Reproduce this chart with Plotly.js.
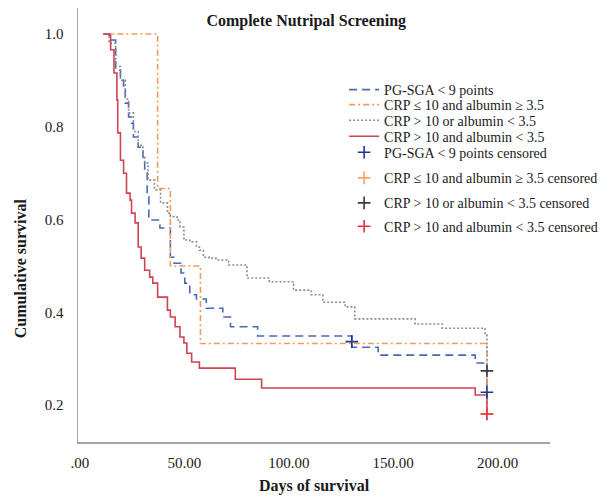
<!DOCTYPE html>
<html>
<head>
<meta charset="utf-8">
<script src="https://cdn.plot.ly/plotly-3.0.1.min.js"></script>
<style>html,body{margin:0;padding:0;background:#fff;}#chart{width:611px;height:496px;}</style>
</head>
<body>
<div id="chart"></div>
<script>
// ---- axis ticks ----
const xTickVals = [0, 50, 100, 150, 200];
const xTickText = ['.00', '50.00', '100.00', '150.00', '200.00'];
const yTickVals = [0.2, 0.4, 0.6, 0.8, 1.0];
const yTickText = ['0.2', '0.4', '0.6', '0.8', '1.0'];

// ---- series names ----
const seriesNames = ['PG-SGA < 9 points', 'CRP ≤ 10 and albumin ≥ 3.5', 'CRP > 10 or albumin < 3.5', 'CRP > 10 and albumin < 3.5'];
const censoredNames = ['PG-SGA < 9 points censored', 'CRP ≤ 10 and albumin ≥ 3.5 censored', 'CRP > 10 or albumin < 3.5 censored', 'CRP > 10 and albumin < 3.5 censored'];

// ---- PG-SGA < 9 points (blue dashed) ----
const pgDays = [11.2,14.0,17.1,19.4,20.9,21.7,23.3,24.7,25.6,27.9,30.2,31.0,32.2,33.0,38.3,43.3,45.1,48.4,50.2,52.6,55.8,60.5,68.4,72.1,85.1,130.2,142.8,189.3,194.9];
const pgSurv = [1.0,0.987,0.922,0.901,0.886,0.851,0.821,0.808,0.778,0.756,0.728,0.707,0.649,0.599,0.582,0.519,0.506,0.485,0.463,0.438,0.429,0.409,0.390,0.369,0.349,0.325,0.308,0.291,0.228];
const pgCensDays = [130.2, 194.9];
const pgCensSurv = [0.337, 0.228];

// ---- CRP <= 10 and albumin >= 3.5 (orange dash-dot) ----
const lowDays = [11.2, 37.2, 43.3, 57.7, 194.9];
const lowSurv = [1.0, 0.667, 0.5, 0.333, 0.181];
const lowCensDays = [194.9];
const lowCensSurv = [0.181];

// ---- CRP > 10 or albumin < 3.5 (grey dotted) ----
const orDays = [11.2,14.0,17.1,19.4,21.7,23.3,25.6,27.9,30.2,31.0,32.6,35.7,38.6,41.9,43.3,46.5,47.9,49.8,52.6,55.8,57.2,59.1,61.9,65.1,71.2,80.0,90.7,102.3,110.7,116.3,127.0,131.6,160.5,173.5,194.0,194.9];
const orSurv = [1.0,0.98,0.93,0.90,0.86,0.83,0.79,0.76,0.735,0.722,0.685,0.664,0.636,0.614,0.606,0.599,0.584,0.556,0.552,0.541,0.534,0.519,0.517,0.513,0.502,0.474,0.466,0.448,0.438,0.422,0.412,0.386,0.375,0.366,0.351,0.274];
const orCensDays = [194.9];
const orCensSurv = [0.274];

// ---- CRP > 10 and albumin < 3.5 (red solid) ----
const andDays = [11.2,14.7,16.3,17.7,18.1,19.4,20.9,22.3,24.0,24.7,26.4,27.9,29.3,31.0,33.4,34.9,37.2,41.9,43.3,45.6,47.9,49.8,51.2,53.5,57.2,74.4,87.0,189.3,194.9];
const andSurv = [1.0,0.966,0.916,0.858,0.787,0.728,0.700,0.657,0.642,0.614,0.593,0.541,0.517,0.491,0.476,0.463,0.433,0.405,0.390,0.369,0.347,0.334,0.312,0.293,0.280,0.256,0.237,0.222,0.181];
const andCensDays = [194.9];
const andCensSurv = [0.181];

const lineColors = ['#4a68b8', '#f29a5c', '#8c8c8c', '#cf4450'];
const crossColors = ['#1f3592', '#f5a068', '#3a3a3a', '#e0323f'];
const dashes = ['8px,5px', '6px,3px,2px,3px', '2px,2px', 'solid'];

const curveX = [pgDays, lowDays, orDays, andDays];
const curveY = [pgSurv, lowSurv, orSurv, andSurv];
const censX = [pgCensDays, lowCensDays, orCensDays, andCensDays];
const censY = [pgCensSurv, lowCensSurv, orCensSurv, andCensSurv];

const serif = 'Liberation Serif, Times New Roman, serif';
const traces = [];
const legendIds = ['legend','legend2','legend3','legend4','legend5','legend6','legend7','legend8'];
for (let i = 0; i < 4; i++) {
  traces.push({
    x: curveX[i], y: curveY[i], type: 'scatter', mode: 'lines',
    line: {shape: 'hv', color: lineColors[i], width: 1.6, dash: dashes[i]},
    name: seriesNames[i], legend: legendIds[i], hoverinfo: 'skip'
  });
}
for (let i = 0; i < 4; i++) {
  traces.push({
    x: censX[i], y: censY[i], type: 'scatter', mode: 'markers',
    marker: {symbol: 'cross-thin', size: 9, color: crossColors[i], line: {color: crossColors[i], width: 1.6}},
    name: censoredNames[i], legend: legendIds[i + 4], hoverinfo: 'skip'
  });
}

const L = 78, R = 564, T = 8, B = 442;
const legendRowsPx = [90, 105, 120.7, 136.7, 152.7, 178.3, 203.3, 226.7];
const legendLeftPx = 352;

const layout = {
  width: 611, height: 496,
  margin: {l: L, r: 611 - R, t: T, b: 496 - B, pad: 0},
  paper_bgcolor: '#ffffff', plot_bgcolor: '#ffffff',
  showlegend: true,
  font: {family: serif, size: 15, color: '#1a1a1a'},
  title: {
    text: 'Complete Nutripal Screening',
    font: {family: serif, size: 16, weight: 'bold', color: '#1a1a1a'},
    xref: 'paper', x: (313 - L) / (R - L), xanchor: 'center',
    yref: 'container', y: 1 - 20 / 496, yanchor: 'middle'
  },
  xaxis: {
    range: [-0.93, 225.1], showgrid: false, zeroline: false,
    showline: true, linecolor: '#a3a3a3', linewidth: 1.5,
    ticks: '', tickvals: xTickVals, ticktext: xTickText,
    tickfont: {family: serif, size: 15, color: '#1a1a1a'},
    ticklabelstandoff: 6,
    title: {text: 'Days of survival', font: {family: serif, size: 16, weight: 'bold', color: '#1a1a1a'}, standoff: 10},
    automargin: false
  },
  yaxis: {
    range: [1 - (B - 34) / 464, 1 + (34 - T) / 464], showgrid: false, zeroline: false,
    showline: true, linecolor: '#a3a3a3', linewidth: 1.5,
    ticks: '', tickvals: yTickVals, ticktext: yTickText,
    tickfont: {family: serif, size: 15, color: '#1a1a1a'},
    ticklabelstandoff: 10,
    automargin: false
  },
  annotations: [{
    text: 'Cumulative survival', textangle: -90,
    xref: 'paper', yref: 'paper',
    x: (18.5 - L) / (R - L), y: (B - 268) / (B - T),
    xanchor: 'center', yanchor: 'middle', showarrow: false,
    font: {family: serif, size: 16, weight: 'bold', color: '#1a1a1a'}
  }]
};
legendIds.forEach((id, k) => {
  layout[id] = {
    x: (legendLeftPx - L) / (R - L), xanchor: 'left',
    y: (B - legendRowsPx[k]) / (B - T), yanchor: 'middle',
    bgcolor: 'rgba(0,0,0,0)', borderwidth: 0,
    font: {family: serif, size: 14, color: '#1a1a1a'},
    itemwidth: 30, itemclick: false, itemdoubleclick: false
  };
});

Plotly.newPlot('chart', traces, layout, {staticPlot: true, displayModeBar: false});
</script>
</body>
</html>
